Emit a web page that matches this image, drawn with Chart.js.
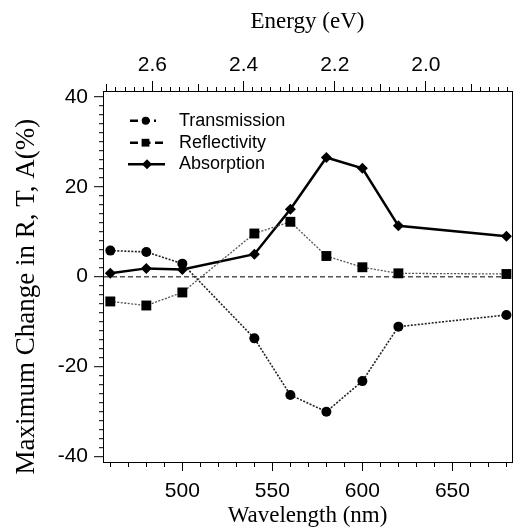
<!DOCTYPE html>
<html><head><meta charset="utf-8">
<script src="https://cdn.jsdelivr.net/npm/chart.js@4.4.1/dist/chart.umd.min.js"></script>
<style>html,body{margin:0;padding:0;background:#fff}#wrap{width:519px;height:529px;position:relative}</style>
</head><body><div id="wrap"><canvas id="c" width="519" height="529"></canvas></div>
<script>
// ---- data ----
const wavelengths = [460, 480, 500, 540, 560, 580, 600, 620, 680];
const transmission = [5.8, 5.5, 2.9, -13.7, -26.3, -30.0, -23.2, -11.1, -8.5];
const reflectivity = [-5.5, -6.4, -3.5, 9.6, 12.2, 4.6, 2.1, 0.75, 0.6];
const absorption = [0.75, 1.85, 1.6, 5.0, 15.0, 26.5, 24.1, 11.3, 9.0];
const seriesLabels = ['Transmission', 'Reflectivity', 'Absorption'];
const wavelengthTickLabels = [500, 550, 600, 650];
const energyTickLabels = ['2.6', '2.4', '2.2', '2.0'];
const yTickLabels = [40, 20, 0, -20, -40];
const xTitle = 'Wavelength (nm)';
const x2Title = 'Energy (eV)';
const yTitle = 'Maximum Change in R, T, A(%)';

const toPts = (vals) => vals.map((v, i) => ({x: wavelengths[i], y: v}));

const tickFont = {family: '"Liberation Sans", Arial, sans-serif', size: 21};
const titleFont = {family: '"Liberation Serif", "Times New Roman", serif', size: 23, lineHeight: 1.1};

const isMult = (v, m) => Math.abs(v / m - Math.round(v / m)) < 1e-6;

const overlayPlugin = {
  id: 'overlay',
  afterDraw(chart) {
    const ctx = chart.ctx;
    // y-axis title
    ctx.save();
    ctx.translate(33.5, 296.7);
    ctx.rotate(-Math.PI / 2);
    ctx.font = '27px "Liberation Serif", "Times New Roman", serif';
    ctx.fillStyle = '#000';
    ctx.textAlign = 'center';
    ctx.textBaseline = 'alphabetic';
    ctx.fillText(yTitle, 0, 0);
    ctx.restore();
    // legend
    const rows = [
      {y: 120.7, x0: 130, x1: 156, mx: 145.7, dash: [8, 4], r: 4},
      {y: 142.7, x0: 130, x1: 164, mx: 145.5, dash: [8, 4.5], r: 3.9},
      {y: 164.2, x0: 128, x1: 165, mx: 147, dash: [], r: 5}
    ];
    chart.data.datasets.forEach((ds, i) => {
      const r = rows[i];
      ctx.save();
      ctx.strokeStyle = '#000';
      ctx.fillStyle = '#000';
      ctx.lineWidth = 2.6;
      ctx.setLineDash(r.dash);
      ctx.beginPath(); ctx.moveTo(r.x0, r.y); ctx.lineTo(r.x1, r.y); ctx.stroke();
      ctx.setLineDash([]);
      ctx.beginPath();
      if (ds.pointStyle === 'circle') {
        ctx.arc(r.mx, r.y, r.r, 0, Math.PI * 2);
      } else if (ds.pointStyle === 'rect') {
        ctx.rect(r.mx - r.r, r.y - r.r, 2 * r.r, 2 * r.r);
      } else {
        ctx.moveTo(r.mx - r.r, r.y); ctx.lineTo(r.mx, r.y - r.r);
        ctx.lineTo(r.mx + r.r, r.y); ctx.lineTo(r.mx, r.y + r.r); ctx.closePath();
      }
      ctx.fill();
      ctx.font = '18px "Liberation Sans", Arial, sans-serif';
      ctx.textBaseline = 'middle';
      ctx.textAlign = 'left';
      ctx.fillText(ds.label, 179, r.y);
      ctx.restore();
    });
  }
};

new Chart(document.getElementById('c'), {
  type: 'line',
  data: {
    datasets: [
      {label: seriesLabels[0], data: toPts(transmission), borderColor: '#222', borderWidth: 1.6,
       borderDash: [2, 1.5], pointStyle: 'circle', pointRadius: 5, pointBackgroundColor: '#000',
       pointBorderWidth: 0, fill: false, tension: 0},
      {label: seriesLabels[1], data: toPts(reflectivity), borderColor: '#555', borderWidth: 1.3,
       borderDash: [2, 1.5], pointStyle: 'rect', pointRadius: 7, pointBackgroundColor: '#000',
       pointBorderWidth: 0, fill: false, tension: 0},
      {label: seriesLabels[2], data: toPts(absorption), borderColor: '#000', borderWidth: 2.5,
       pointStyle: 'rectRot', pointRadius: 5.5, pointBackgroundColor: '#000',
       pointBorderWidth: 0, fill: false, tension: 0}
    ]
  },
  options: {
    responsive: false,
    animation: false,
    devicePixelRatio: 1,
    layout: {padding: 0},
    plugins: {legend: {display: false}, tooltip: {enabled: false}},
    scales: {
      x: {
        type: 'linear', position: 'bottom', min: 455.93, max: 683.1,
        ticks: {stepSize: 10, autoSkip: false, maxRotation: 0, includeBounds: false,
          font: tickFont, color: '#000', padding: 7.6,
          callback: (v) => wavelengthTickLabels.includes(Math.round(v)) && isMult(v, 1) ? String(Math.round(v)) : ''},
        grid: {drawOnChartArea: false, tickLength: 9, tickColor: '#000', tickWidth: 1,
          tickBorderDash: (c) => (c.tick && wavelengthTickLabels.includes(Math.round(c.tick.value))) ? [] : [4, 100]},
        border: {display: true, color: '#000', width: 1},
        title: {display: true, text: xTitle, font: titleFont, color: '#000', padding: {top: 0, bottom: 0}},
        afterFit: (s) => { s.height = 67; }
      },
      x2: {
        type: 'linear', position: 'top', min: 1.811, max: 2.7085, reverse: true,
        ticks: {stepSize: 0.02, autoSkip: false, maxRotation: 0, includeBounds: false,
          font: tickFont, color: '#000', padding: 3.4,
          callback: (v) => { const s = Number(v).toFixed(1); return (isMult(v, 0.2) && energyTickLabels.includes(s)) ? s : ''; }},
        grid: {drawOnChartArea: false, tickLength: 10, tickColor: '#000', tickWidth: 1,
          tickBorderDash: (c) => {
            if (!c.tick) return [];
            const v = c.tick.value;
            if (isMult(v, 0.2)) return [];
            if (isMult(v, 0.1)) return [0, 3, 7, 100];
            return [0, 6, 4, 100];
          }},
        border: {display: true, color: '#000', width: 1},
        title: {display: true, text: x2Title, font: titleFont, color: '#000', padding: {top: 9, bottom: 0}},
        afterFit: (s) => { s.height = 91; }
      },
      y: {
        type: 'linear', position: 'left', min: -41.18, max: 41.27,
        ticks: {stepSize: 2, autoSkip: false, includeBounds: false, font: tickFont, color: '#000', padding: 6,
          callback: (v) => yTickLabels.includes(v) ? String(v) : ''},
        grid: {drawOnChartArea: true, lineWidth: 1.4,
          color: (c) => (c.tick && c.tick.value === 0) ? '#555' : 'rgba(0,0,0,0)',
          tickLength: 9, tickColor: '#000', tickWidth: 1,
          tickBorderDash: (c) => (c.tick && yTickLabels.includes(c.tick.value)) ? [] : [0, 5, 4, 100]},
        border: {display: true, color: '#000', width: 1, dash: [5, 3]},
        afterFit: (s) => { s.width = 103; }
      },
      y2: {
        type: 'linear', position: 'right', min: -41.18, max: 41.27,
        ticks: {display: false},
        grid: {drawOnChartArea: false, drawTicks: false},
        border: {display: true, color: '#000', width: 1},
        afterFit: (s) => { s.width = 2; }
      }
    }
  },
  plugins: [overlayPlugin]
});
</script>
</body></html>
